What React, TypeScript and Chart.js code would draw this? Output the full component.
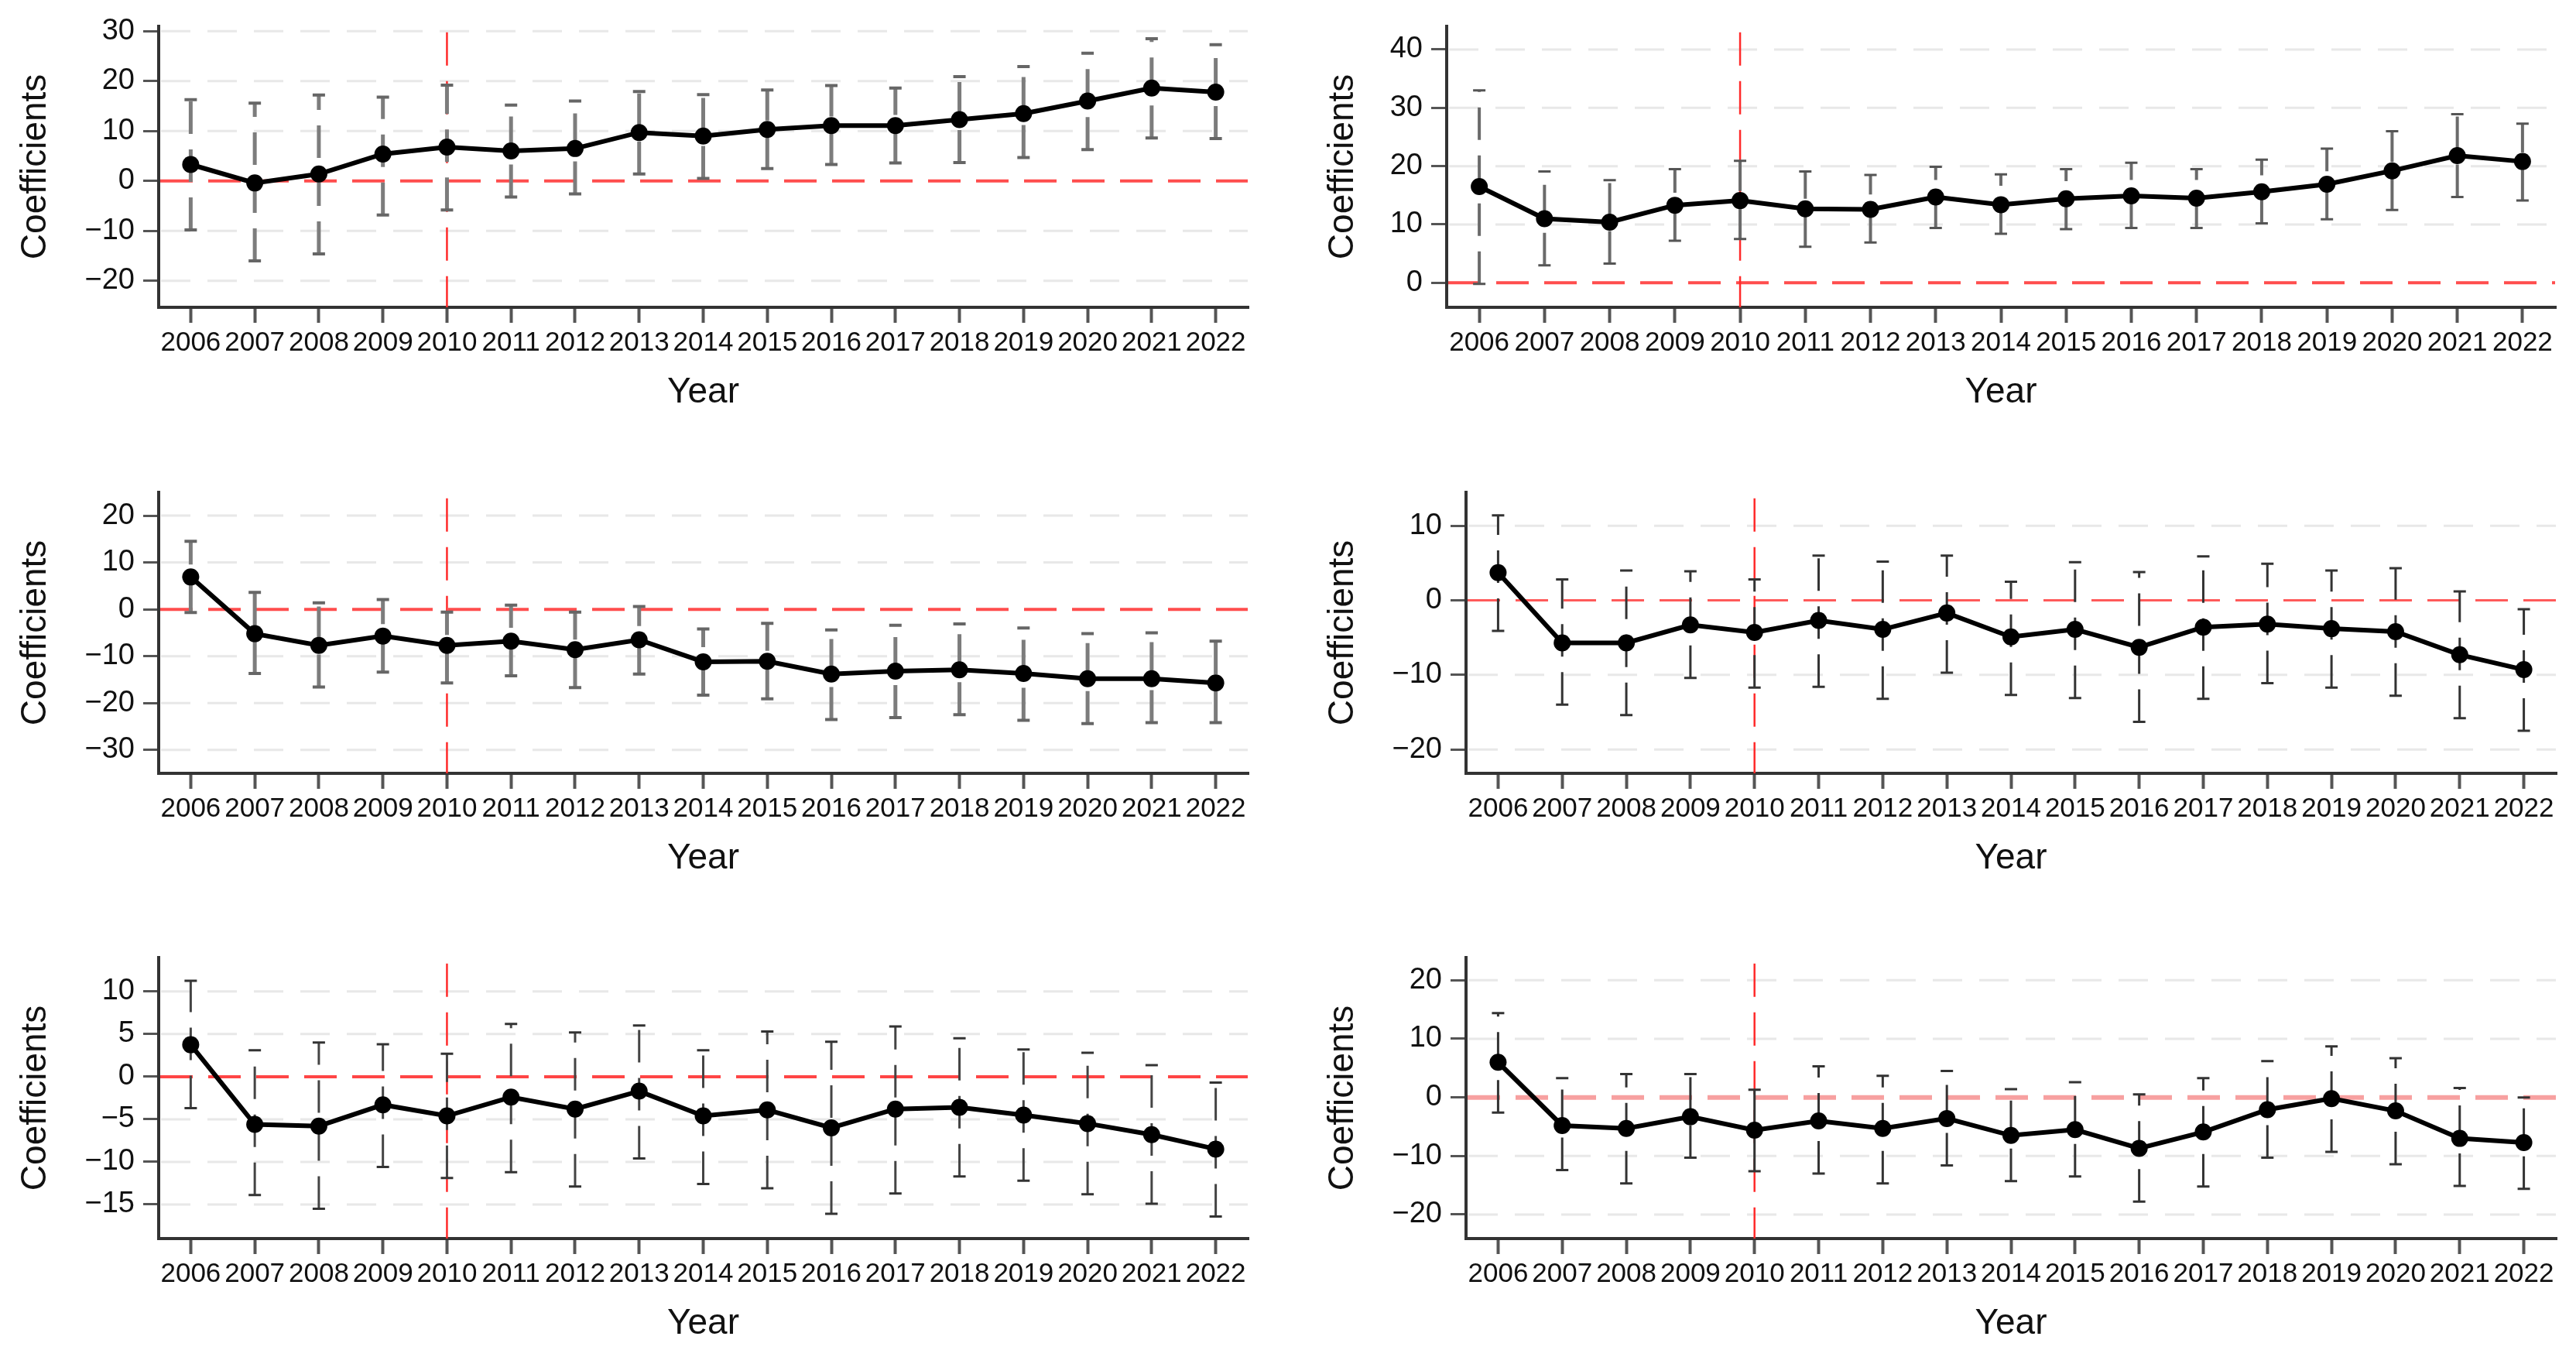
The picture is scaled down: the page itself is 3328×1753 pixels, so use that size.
import React, { useEffect, useRef } from 'react';
import { Chart, registerables } from 'chart.js';

Chart.register(...registerables);

const YEARS = ['2006', '2007', '2008', '2009', '2010', '2011', '2012', '2013', '2014', '2015', '2016', '2017', '2018', '2019', '2020', '2021', '2022'];
const EVENT_YEAR = '2010';

// Panel A (top left)
const coefA = [3.3, -0.4, 1.4, 5.4, 6.8, 6.0, 6.5, 9.7, 9.0, 10.3, 11.1, 11.1, 12.3, 13.5, 16.0, 18.6, 17.8];
const upperA = [16.3, 15.6, 17.2, 16.8, 19.2, 15.2, 16.0, 17.9, 17.3, 18.2, 19.1, 18.6, 20.9, 22.9, 25.6, 28.5, 27.3];
const lowerA = [-9.8, -16.0, -14.6, -6.8, -5.8, -3.2, -2.6, 1.4, 0.5, 2.5, 3.3, 3.6, 3.7, 4.7, 6.3, 8.6, 8.5];
const ticksA = [-20, -10, 0, 10, 20, 30];

// Panel B (top right)
const coefB = [16.5, 11.0, 10.4, 13.3, 14.1, 12.7, 12.6, 14.7, 13.4, 14.4, 14.9, 14.5, 15.6, 16.9, 19.2, 21.8, 20.8];
const upperB = [33.0, 19.1, 17.6, 19.5, 20.9, 19.1, 18.5, 19.9, 18.6, 19.5, 20.6, 19.5, 21.1, 23.0, 26.0, 28.9, 27.3];
const lowerB = [-0.2, 3.0, 3.3, 7.2, 7.5, 6.2, 6.9, 9.4, 8.4, 9.2, 9.4, 9.4, 10.2, 10.9, 12.5, 14.7, 14.1];
const ticksB = [0, 10, 20, 30, 40];

// Panel C (middle left)
const coefC = [6.9, -5.2, -7.7, -5.7, -7.7, -6.8, -8.6, -6.5, -11.2, -11.1, -13.8, -13.2, -12.9, -13.7, -14.8, -14.8, -15.7];
const upperC = [14.5, 3.6, 1.4, 2.1, -0.6, 0.9, -0.6, 0.6, -4.2, -3.0, -4.4, -3.4, -3.1, -4.0, -5.2, -5.0, -6.8];
const lowerC = [-0.7, -13.7, -16.6, -13.4, -15.7, -14.2, -16.7, -13.8, -18.3, -19.1, -23.5, -23.1, -22.5, -23.7, -24.4, -24.2, -24.2];
const ticksC = [-30, -20, -10, 0, 10, 20];

// Panel D (middle right)
const coefD = [3.7, -5.7, -5.7, -3.3, -4.3, -2.7, -3.9, -1.7, -4.9, -3.9, -6.3, -3.6, -3.2, -3.8, -4.2, -7.3, -9.3];
const upperD = [11.4, 2.8, 4.0, 3.9, 2.8, 6.0, 5.2, 6.0, 2.5, 5.1, 3.8, 5.9, 4.9, 4.0, 4.3, 1.2, -1.2];
const lowerD = [-4.1, -14.0, -15.4, -10.4, -11.7, -11.6, -13.2, -9.7, -12.7, -13.1, -16.3, -13.2, -11.1, -11.7, -12.8, -15.8, -17.5];
const ticksD = [-20, -10, 0, 10];

// Panel E (bottom left)
const coefE = [3.75, -5.6, -5.8, -3.3, -4.6, -2.4, -3.8, -1.7, -4.6, -3.9, -6.0, -3.8, -3.6, -4.5, -5.5, -6.8, -8.5];
const upperE = [11.25, 3.1, 4.0, 3.8, 2.7, 6.2, 5.2, 6.0, 3.1, 5.3, 4.1, 5.9, 4.5, 3.2, 2.8, 1.35, -0.7];
const lowerE = [-3.7, -13.9, -15.5, -10.6, -11.9, -11.2, -12.9, -9.6, -12.6, -13.1, -16.1, -13.7, -11.7, -12.2, -13.8, -14.9, -16.4];
const ticksE = [-15, -10, -5, 0, 5, 10];

// Panel F (bottom right)
const coefF = [6.0, -4.8, -5.3, -3.3, -5.6, -4.0, -5.3, -3.6, -6.5, -5.5, -8.7, -5.9, -2.1, -0.2, -2.3, -7.0, -7.7];
const upperF = [14.4, 3.3, 4.0, 4.0, 1.3, 5.3, 3.7, 4.5, 1.4, 2.6, 0.5, 3.3, 6.2, 8.7, 6.7, 1.6, 0.0];
const lowerF = [-2.6, -12.4, -14.7, -10.3, -12.6, -13.0, -14.7, -11.6, -14.3, -13.5, -17.8, -15.2, -10.3, -9.3, -11.4, -15.1, -15.6];
const ticksF = [-20, -10, 0, 10, 20];

const FONT = "'Liberation Sans', Arial, Helvetica, sans-serif";
const CELL_W = 1664;
const CELL_H = 550;
const PLOT_TOP = 33;
const PLOT_BOTTOM = 397;

type PanelCfg = {
  coef: number[];
  lower: number[];
  upper: number[];
  yTicks: number[];
  yMin: number;
  yMax: number;
  left: number;
  right: number;
  titlePad: number;
  errColor: string;
  errWidth: number;
  capColor: string;
  zeroWidth: number;
  zeroColor: string;
  x: number;
  y: number;
};

const PANELS: PanelCfg[] = [
  { coef: coefA, lower: lowerA, upper: upperA, yTicks: ticksA, yMin: -25.3, yMax: 31, left: 205, right: 1612, titlePad: 19, errColor: '#7c7c7c', errWidth: 5, capColor: '#666', zeroWidth: 4, zeroColor: '#ff4d4d', x: 0, y: 0 },
  { coef: coefB, lower: lowerB, upper: upperB, yTicks: ticksB, yMin: -4.2, yMax: 44, left: 205, right: 1637, titlePad: 44, errColor: '#6a6a6a', errWidth: 4, capColor: '#555', zeroWidth: 4, zeroColor: '#ff4d4d', x: CELL_W, y: 0 },
  { coef: coefC, lower: lowerC, upper: upperC, yTicks: ticksC, yMin: -35, yMax: 25, left: 205, right: 1612, titlePad: 19, errColor: '#7c7c7c', errWidth: 5, capColor: '#666', zeroWidth: 4, zeroColor: '#ff4d4d', x: 0, y: 602 },
  { coef: coefD, lower: lowerD, upper: upperD, yTicks: ticksD, yMin: -23.2, yMax: 14.5, left: 230, right: 1638, titlePad: 44, errColor: '#333', errWidth: 3, capColor: '#333', zeroWidth: 3, zeroColor: '#ff5a5a', x: CELL_W, y: 602 },
  { coef: coefE, lower: lowerE, upper: upperE, yTicks: ticksE, yMin: -19, yMax: 14, left: 205, right: 1612, titlePad: 19, errColor: '#444', errWidth: 3, capColor: '#333', zeroWidth: 4, zeroColor: '#ff4545', x: 0, y: 1203 },
  { coef: coefF, lower: lowerF, upper: upperF, yTicks: ticksF, yMin: -24.1, yMax: 23.9, left: 230, right: 1638, titlePad: 44, errColor: '#333', errWidth: 3, capColor: '#333', zeroWidth: 6, zeroColor: '#f7a0a0', x: CELL_W, y: 1203 },
];

const fmt = (v: number) => (v < 0 ? '\u2212' + Math.abs(v) : String(v));

function makeDecor(cfg: PanelCfg) {
  return {
    id: 'stataDecor',
    beforeDatasetsDraw(chart: any) {
      const { ctx, chartArea: ca, scales } = chart;
      const xs = scales.x;
      const ys = scales.y;
      ctx.save();
      ctx.lineCap = 'butt';
      // light dashed gridlines
      ctx.strokeStyle = '#e8e8e8';
      ctx.lineWidth = 3;
      ctx.setLineDash([38, 22]);
      cfg.yTicks.forEach((v) => {
        if (v === 0) return;
        const py = ys.getPixelForValue(v);
        ctx.beginPath();
        ctx.moveTo(ca.left + 3, py);
        ctx.lineTo(ca.right, py);
        ctx.stroke();
      });
      // zero reference line
      const pz = ys.getPixelForValue(0);
      ctx.strokeStyle = cfg.zeroColor;
      ctx.lineWidth = cfg.zeroWidth;
      ctx.setLineDash([42, 20]);
      ctx.beginPath();
      ctx.moveTo(ca.left + 2, pz);
      ctx.lineTo(ca.right, pz);
      ctx.stroke();
      // vertical event line
      const ev = YEARS.indexOf(EVENT_YEAR);
      const pv = xs.getPixelForValue(ev);
      ctx.strokeStyle = '#ff2a2a';
      ctx.lineWidth = 2.5;
      ctx.setLineDash([43, 20]);
      ctx.beginPath();
      ctx.moveTo(pv, ca.top + 8);
      ctx.lineTo(pv, ca.bottom);
      ctx.stroke();
      // error bars (dashed, drawn from lower bound up)
      cfg.coef.forEach((_, i) => {
        const px = xs.getPixelForValue(i);
        const pl = ys.getPixelForValue(cfg.lower[i]);
        const pu = ys.getPixelForValue(cfg.upper[i]);
        ctx.strokeStyle = cfg.errColor;
        ctx.lineWidth = cfg.errWidth;
        ctx.setLineDash([42, 20]);
        ctx.beginPath();
        ctx.moveTo(px, pl);
        ctx.lineTo(px, pu);
        ctx.stroke();
        ctx.setLineDash([]);
        ctx.strokeStyle = cfg.capColor;
        ctx.lineWidth = Math.max(3, cfg.errWidth - 1);
        ctx.beginPath();
        ctx.moveTo(px - 8, pl);
        ctx.lineTo(px + 8, pl);
        ctx.moveTo(px - 8, pu);
        ctx.lineTo(px + 8, pu);
        ctx.stroke();
      });
      ctx.restore();
    },
  };
}

function Panel({ cfg }: { cfg: PanelCfg }) {
  const ref = useRef<HTMLCanvasElement>(null);
  useEffect(() => {
    if (!ref.current) return;
    const chart = new Chart(ref.current, {
      type: 'line',
      data: {
        labels: YEARS,
        datasets: [
          {
            data: cfg.coef,
            borderColor: '#000',
            borderWidth: 6,
            pointRadius: 11,
            pointHoverRadius: 11,
            pointBackgroundColor: '#000',
            pointBorderColor: '#000',
            pointBorderWidth: 0,
            tension: 0,
            fill: false,
          },
        ],
      },
      options: {
        animation: false,
        responsive: false,
        maintainAspectRatio: false,
        devicePixelRatio: 1,
        events: [],
        layout: { padding: { left: 0, top: PLOT_TOP, right: CELL_W - cfg.right, bottom: 0 } },
        plugins: { legend: { display: false }, tooltip: { enabled: false }, title: { display: false } },
        scales: {
          x: {
            type: 'category',
            offset: true,
            afterFit: (s: any) => {
              s.height = CELL_H - PLOT_BOTTOM;
            },
            ticks: { autoSkip: false, maxRotation: 0, minRotation: 0, font: { family: FONT, size: 35 }, color: '#111', padding: 5 },
            grid: { drawOnChartArea: false, drawTicks: true, tickLength: 20, tickWidth: 4, tickColor: '#555', color: '#555', lineWidth: 3, offset: false },
            border: { display: true, color: '#333', width: 4 },
            title: { display: true, text: 'Year', font: { family: FONT, size: 46 }, color: '#111', padding: { top: 0, bottom: 15 } },
          },
          y: {
            type: 'linear',
            min: cfg.yMin,
            max: cfg.yMax,
            afterBuildTicks: (s: any) => {
              s.ticks = cfg.yTicks.map((v) => ({ value: v }));
            },
            afterFit: (s: any) => {
              s.width = cfg.left;
            },
            ticks: { font: { family: FONT, size: 38 }, color: '#111', padding: 11, callback: (v: any) => fmt(Number(v)) },
            grid: { drawOnChartArea: false, drawTicks: true, tickLength: 20, tickWidth: 3, tickColor: '#555', color: '#555', lineWidth: 3 },
            border: { display: true, color: '#333', width: 4 },
            title: { display: true, text: 'Coefficients', font: { family: FONT, size: 46 }, color: '#111', padding: { top: cfg.titlePad, bottom: 0 } },
          },
        },
      },
      plugins: [makeDecor(cfg)],
    } as any);
    return () => chart.destroy();
  }, [cfg]);
  return (
    <canvas
      ref={ref}
      width={CELL_W}
      height={CELL_H}
      style={{ position: 'absolute', left: cfg.x, top: cfg.y, width: CELL_W, height: CELL_H }}
    />
  );
}

export default function App() {
  return (
    <div style={{ position: 'fixed', left: 0, top: 0, width: 3328, height: 1753, background: '#fff', overflow: 'hidden' }}>
      {PANELS.map((p, i) => (
        <Panel key={i} cfg={p} />
      ))}
    </div>
  );
}
